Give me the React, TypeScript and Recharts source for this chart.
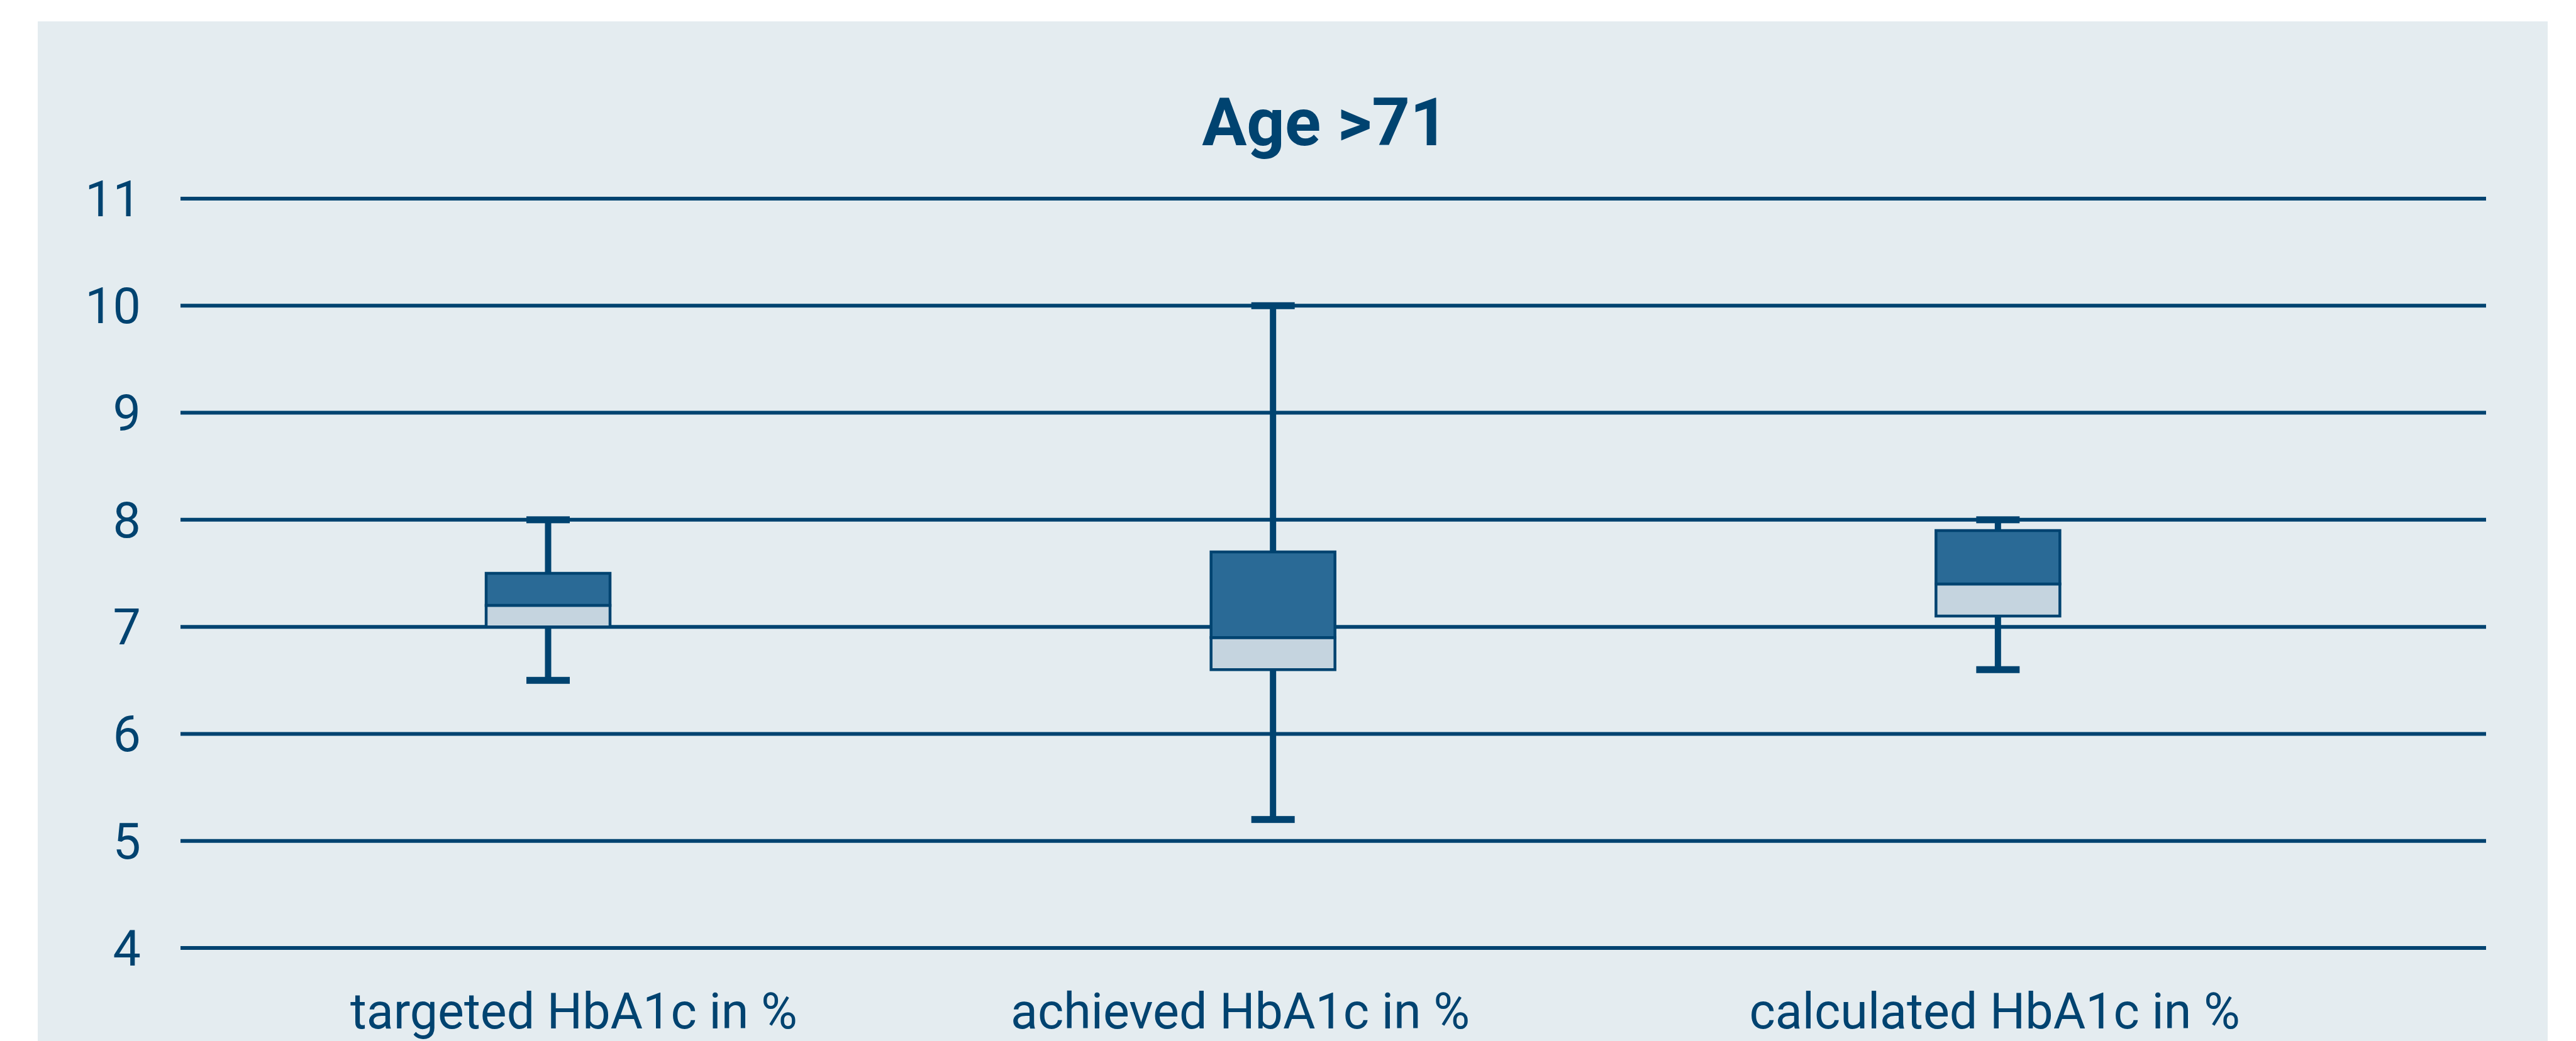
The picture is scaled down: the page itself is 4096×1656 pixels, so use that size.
import React from "react";
import { ComposedChart, Bar, XAxis, YAxis, CartesianGrid } from "recharts";

const CATEGORIES = ["targeted HbA1c in %", "achieved HbA1c in %", "calculated HbA1c in %"];
const MIN_VALUES = [6.5, 5.2, 6.6];
const Q1_VALUES = [7.0, 6.6, 7.1];
const MEDIAN_VALUES = [7.2, 6.9, 7.4];
const Q3_VALUES = [7.5, 7.7, 7.9];
const MAX_VALUES = [8.0, 10.0, 8.0];
const Y_TICKS = [4, 5, 6, 7, 8, 9, 10, 11];

const NAVY = "#004370";
const DARK = "#2a6a96";
const LIGHT = "#c5d4df";
const PANEL = "#e4ecf0";
const FONT = "Roboto, 'Noto Sans', sans-serif";

// stacked pieces: invisible base, lower whisker, light box, dark box, upper whisker
const data = CATEGORIES.map((name, i) => ({
  name,
  base: MIN_VALUES[i],
  lowWhisker: Q1_VALUES[i] - MIN_VALUES[i],
  lowBox: MEDIAN_VALUES[i] - Q1_VALUES[i],
  highBox: Q3_VALUES[i] - MEDIAN_VALUES[i],
  highWhisker: MAX_VALUES[i] - Q3_VALUES[i],
}));

// label nudges relative to the box centre (the source labels are not quite centred)
const LABEL_NUDGE = [41, -52, -5];

const CAP_W = 69;
const CAP_H = 11;
const STEM_W = 10;

const LowWhisker = (props: any) => {
  const { x, y, width, height } = props;
  const cx = x + width / 2;
  return (
    <g>
      <rect x={cx - STEM_W / 2} y={y} width={STEM_W} height={height} fill={NAVY} />
      <rect x={cx - CAP_W / 2} y={y + height - CAP_H / 2} width={CAP_W} height={CAP_H} fill={NAVY} />
    </g>
  );
};

const HighWhisker = (props: any) => {
  const { x, y, width, height } = props;
  const cx = x + width / 2;
  return (
    <g>
      <rect x={cx - STEM_W / 2} y={y} width={STEM_W} height={height} fill={NAVY} />
      <rect x={cx - CAP_W / 2} y={y - CAP_H / 2} width={CAP_W} height={CAP_H} fill={NAVY} />
    </g>
  );
};

const CategoryTick = (props: any) => {
  const { x, y, payload, index } = props;
  return (
    <text
      x={x + (LABEL_NUDGE[index] || 0)}
      y={y}
      dy="0.71em"
      textAnchor="middle"
      fill={NAVY}
      fontSize={79}
      fontFamily={FONT}
    >
      {payload.value}
    </text>
  );
};

export default function App() {
  return (
    <div style={{ position: "absolute", left: 0, top: 0, width: 4096, height: 1656, background: "#fff", overflow: "hidden" }}>
      <div style={{ position: "absolute", left: 60, top: 34, width: 3991, height: 1622, background: PANEL }} />
      <div style={{ position: "absolute", left: 0, top: 0 }}>
        <ComposedChart
          width={4096}
          height={1656}
          data={data}
          margin={{ top: 316, right: 143, left: 0, bottom: 0 }}
        >
          <CartesianGrid horizontal vertical={false} stroke={NAVY} strokeWidth={6} />
          <XAxis
            dataKey="name"
            height={148}
            axisLine={false}
            tickLine={false}
            tickSize={0}
            tickMargin={72}
            padding={{ left: 8, right: 200 }}
            tick={<CategoryTick />}
            interval={0}
          />
          <YAxis
            width={287}
            domain={[4, 11]}
            allowDataOverflow
            ticks={Y_TICKS}
            type="number"
            axisLine={false}
            tickLine={false}
            tickSize={0}
            tickMargin={63}
            tick={{ fill: NAVY, fontSize: 79, fontFamily: FONT }}
          />
          <Bar dataKey="base" stackId="box" fill="none" barSize={197} isAnimationActive={false} />
          <Bar dataKey="lowWhisker" stackId="box" shape={<LowWhisker />} barSize={197} isAnimationActive={false} />
          <Bar dataKey="lowBox" stackId="box" fill={LIGHT} stroke={NAVY} strokeWidth={4.5} barSize={197} isAnimationActive={false} />
          <Bar dataKey="highBox" stackId="box" fill={DARK} stroke={NAVY} strokeWidth={4.5} barSize={197} isAnimationActive={false} />
          <Bar dataKey="highWhisker" stackId="box" shape={<HighWhisker />} barSize={197} isAnimationActive={false} />
        </ComposedChart>
      </div>
      <svg style={{ position: "absolute", left: 0, top: 0 }} width={4096} height={400}>
        <text x={2107} y={231} textAnchor="middle" fill={NAVY} fontSize={106} fontWeight={700} fontFamily={FONT}>
          Age &gt;71
        </text>
      </svg>
    </div>
  );
}
